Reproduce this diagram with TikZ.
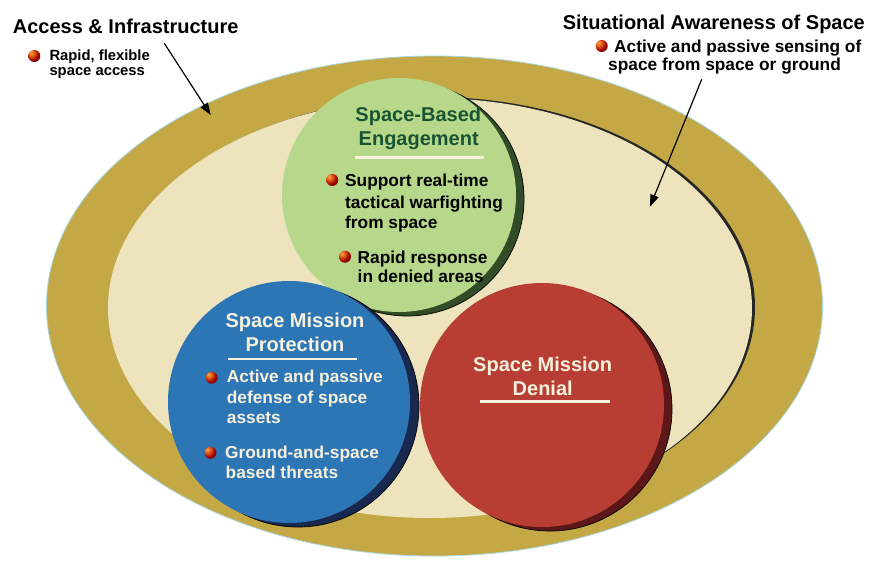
\documentclass[tikz,border=0pt]{standalone}
\usepackage{fontspec}
\setmainfont{Liberation Sans}
\usetikzlibrary{arrows.meta}

\definecolor{gold}{RGB}{196,168,70}
\definecolor{cream}{RGB}{237,227,189}
\definecolor{haze}{RGB}{165,215,225}
\definecolor{sbegreen}{RGB}{183,216,138}
\definecolor{sbeshadow}{RGB}{50,76,40}
\definecolor{smpblue}{RGB}{45,118,182}
\definecolor{smpshadow}{RGB}{24,40,78}
\definecolor{smdred}{RGB}{184,62,52}
\definecolor{smdshadow}{RGB}{92,24,24}
\definecolor{titlegreen}{RGB}{25,85,50}
\definecolor{paletext}{RGB}{246,240,220}
\definecolor{ballhigh}{RGB}{250,170,60}
\definecolor{ballmid}{RGB}{225,95,30}
\definecolor{balldark}{RGB}{85,20,20}

% small 3D bullet sphere
\pgfdeclareradialshading{bulletball}{\pgfpoint{-14bp}{14bp}}{%
  color(0bp)=(ballhigh); color(12bp)=(ballmid);
  color(28bp)=(red!60!black); color(46bp)=(balldark);
  color(100bp)=(balldark)}

\tikzset{
  bulletdot/.style={circle, minimum size=12pt, inner sep=0pt, shading=bulletball},
  heading/.style={inner sep=0pt, anchor=base west, font=\bfseries\fontsize{20}{24}\selectfont},
  circtitle/.style={inner sep=0pt, anchor=base, font=\bfseries\fontsize{20}{24}\selectfont},
  smallline/.style={inner sep=0pt, anchor=base west, font=\bfseries\fontsize{14.8}{17}\selectfont},
  itemline/.style={inner sep=0pt, anchor=base west, font=\bfseries\fontsize{17.3}{20}\selectfont},
  disc/.style={circle, inner sep=0pt, minimum size=#1},
  discshadow/.style={circle, inner sep=0pt, minimum size=#1, draw=black, line width=0.7pt},
  rule/.style={line width=2.6pt, paletext},
  pointer/.style={line width=1.2pt, -{Triangle[length=12pt,width=8.5pt]}},
}

\begin{document}
\begin{tikzpicture}[x=1pt, y=-1pt]
\useasboundingbox (0,0) rectangle (870,560);
\fill[white] (0,0) rectangle (870,560);

% outer band and inner field
\filldraw[fill=gold, draw=haze, line width=0.8pt] (434.5,306) ellipse [x radius=388, y radius=250];
\fill[black!85] (433,307) ellipse [x radius=322, y radius=210];
\fill[cream] (430,308) ellipse [x radius=322, y radius=210];

% the three mission discs, each with its offset shadow
\node[discshadow=234pt, fill=sbeshadow] (sbeShade) at (407,199) {};
\node[disc=234pt, fill=sbegreen] (sbe) at (399,195) {};

\node[discshadow=242pt, fill=smpshadow] (smpShade) at (298,406) {};
\node[disc=242pt, fill=smpblue] (smp) at (289,402) {};

\node[discshadow=244pt, fill=smdshadow] (smdShade) at (550,409) {};
\node[disc=244pt, fill=smdred] (smd) at (542,405) {};

% Access & Infrastructure
\node[heading] (aiTitle) at (12.7,33.3) {Access \& Infrastructure};
\node[bulletdot] (aiBall) at (34.3,56) {};
\node[smallline] (aiL1) at (49.3,60) {Rapid, flexible};
\node[smallline] (aiL2) at (49.3,75) {space access};

% Situational Awareness of Space
\node[heading] (saTitle) at (562.7,29.3) {Situational Awareness of Space};
\node[bulletdot] (saBall) at (601.7,46) {};
\node[itemline] (saL1) at (614,52.7) {Active and passive sensing of};
\node[itemline] (saL2) at (608,70.7) {space from space or ground};

% Space-Based Engagement
\node[circtitle, text=titlegreen] (sbeT1) at (418.3,121.7) {Space-Based};
\node[circtitle, text=titlegreen] (sbeT2) at (418.7,145) {Engagement};
\draw[rule] (355,157.7) -- (484,157.7);
\node[bulletdot] (sbeBall1) at (332.3,180) {};
\node[itemline] (sbeA1) at (345,186) {Support real-time};
\node[itemline] (sbeA2) at (345,208.3) {tactical warfighting};
\node[itemline] (sbeA3) at (345,228.3) {from space};
\node[bulletdot] (sbeBall2) at (345,256.7) {};
\node[itemline] (sbeB1) at (357.5,263.3) {Rapid response};
\node[itemline] (sbeB2) at (357.5,282.7) {in denied areas};

% Space Mission Protection
\node[circtitle, text=paletext] (smpT1) at (295,327.3) {Space Mission};
\node[circtitle, text=paletext] (smpT2) at (295,351.7) {Protection};
\draw[rule] (227.7,359) -- (356.7,359);
\node[bulletdot] (smpBall1) at (211.7,377.7) {};
\node[itemline, text=paletext] (smpA1) at (226.7,382.7) {Active and passive};
\node[itemline, text=paletext] (smpA2) at (226.7,403.3) {defense of space};
\node[itemline, text=paletext] (smpA3) at (226.7,423.3) {assets};
\node[bulletdot] (smpBall2) at (210.5,452.8) {};
\node[itemline, text=paletext] (smpB1) at (225,458.3) {Ground-and-space};
\node[itemline, text=paletext] (smpB2) at (225.5,478.3) {based threats};

% Space Mission Denial
\node[circtitle, text=paletext] (smdT1) at (542.7,371.7) {Space Mission};
\node[circtitle, text=paletext] (smdT2) at (542.7,395) {Denial};
\draw[rule] (480,401.7) -- (610,401.7);

% pointers from the outer labels
\coordinate (aiFrom) at (164.3,43.3);
\coordinate (aiTo) at (210.7,115);
\draw[pointer] (aiFrom) -- (aiTo);
\coordinate (saFrom) at (701.7,79.3);
\coordinate (saTo) at (650,206.7);
\draw[pointer] (saFrom) -- (saTo);
\end{tikzpicture}
\end{document}
